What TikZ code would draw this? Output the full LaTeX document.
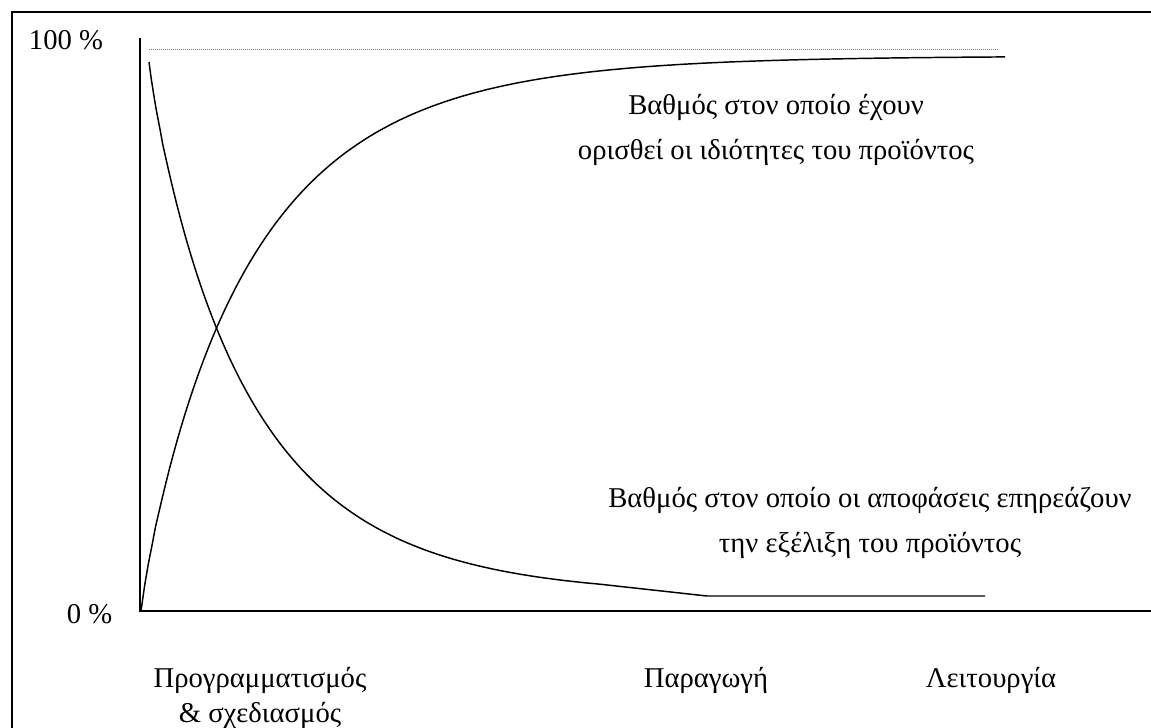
\documentclass[tikz,border=0pt]{standalone}
\usepackage{fontspec}
\setmainfont{Liberation Serif}
\begin{document}
\begin{tikzpicture}[x=0.75pt,y=-0.75pt,
  axis/.style={line width=1.4pt,black},
  curve/.style={line width=1.1pt,black,line join=round},
  guide/.style={line width=0.7pt,gray,dash pattern=on 0.75pt off 0.75pt},
  lbl/.style={font=\fontsize{21.5}{26}\selectfont,anchor=base,inner sep=0pt}]
\useasboundingbox (0,0) rectangle (1151,727);
\begin{scope}
  \clip (0,0) rectangle (1151,727);
  \draw[line width=1.6pt] (12,12) rectangle (1180,760);
\end{scope}

% axes
\coordinate (top) at (140,38);
\coordinate (origin) at (140,611);
\coordinate (xend) at (1151,611);
\draw[axis] (top) -- (origin) -- (xend);

% 100 % guide line
\coordinate (g1) at (149,49);
\coordinate (g2) at (998,49);
\draw[guide] (g1) -- (g2);

% degree to which product properties are defined (rising)
\draw[curve] plot[domain=0.01:864,samples=240]
  ({141+\x},{611-555*(1-exp(-1*pow(\x/110,0.9)))});

% degree to which decisions affect the product (falling)
\coordinate (fallA) at (707,596);
\coordinate (fallB) at (985,596);
\draw[curve] plot[domain=0.01:451,samples=200]
  ({149+\x},{596-534*exp(-1*pow(\x/102,0.9))}) -- (fallA) -- (fallB);

% labels
\node[lbl] (p100) at (66,50) {100 \%};
\node[lbl] (p0) at (89.5,623) {0 \%};
\node[lbl] (defined1) at (776,115) {Βαθμός στον οποίο έχουν};
\node[lbl] (defined2) at (776,160) {ορισθεί οι ιδιότητες του προϊόντος};
\node[lbl] (affect1) at (870,507) {Βαθμός στον οποίο οι αποφάσεις επηρεάζουν};
\node[lbl] (affect2) at (870,552) {την εξέλιξη του προϊόντος};
\node[lbl] (plan1) at (260,687) {Προγραμματισμός};
\node[lbl] (plan2) at (260,722) {\& σχεδιασμός};
\node[lbl] (prod) at (706,687) {Παραγωγή};
\node[lbl] (oper) at (991,687) {Λειτουργία};
\end{tikzpicture}
\end{document}
